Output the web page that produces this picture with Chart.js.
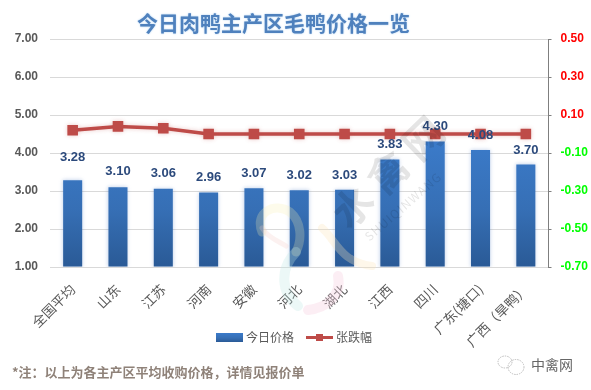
<!DOCTYPE html>
<html>
<head>
<meta charset="utf-8">
<script src="https://cdn.jsdelivr.net/npm/chart.js@4"></script>
<style>
  html, body { margin: 0; padding: 0; background: #fff; }
  #wrap { position: relative; width: 591px; height: 390px; overflow: hidden; font-family: "Noto Sans CJK SC", sans-serif; }
  #myChart { position: absolute; left: 0; top: 0; }
  .abs { position: absolute; white-space: nowrap; }
  #title { left: 137px; top: 7px; font-size: 21px; font-weight: bold; color: #4f81bd; line-height: 30px; text-shadow: 0 0 2px #a9cdf0; }
  #note { left: 12px; top: 362px; font-size: 13px; font-weight: bold; color: #8f8279; line-height: 20px; }
  #brand { left: 531px; top: 354px; font-size: 14px; color: #666; line-height: 20px; }
  .mark { color: #000; opacity: 0.10; transform-origin: left top; }
  #logo, #wx { position: absolute; left: 0; top: 0; pointer-events: none; }
</style>
</head>
<body>
<div id="wrap">
  <canvas id="myChart" width="591" height="390"></canvas>
  <svg id="logo" width="591" height="390" fill="none" stroke-linecap="round">
    <path d="M262 232 C254 212 275 202 290 212 C302 222 302 240 296 252" stroke="#f6eeb0" stroke-width="9" opacity="0.25"/>
    <path d="M296 252 C280 268 280 292 298 306" stroke="#bfe8e6" stroke-width="10" opacity="0.3"/>
    <path d="M322 228 C336 240 340 262 372 266" stroke="#fbe6b8" stroke-width="8" opacity="0.3"/>
    <path d="M338 276 C342 296 326 308 308 310" stroke="#f6cfe0" stroke-width="10" opacity="0.35"/>
    <path d="M262 228 C268 238 280 242 286 246" stroke="#f4c9c4" stroke-width="5" opacity="0.25"/>
  </svg>
  <div class="abs mark" style="left:319px;top:200px;font-size:40px;font-weight:bold;line-height:52px;letter-spacing:9px;transform:rotate(-44deg)">水禽网</div>
  <div class="abs mark" style="left:361px;top:232px;font-size:12px;line-height:16px;letter-spacing:1.2px;transform:rotate(-41deg)">SHUIQINWANG</div>
  <div class="abs" id="title">今日肉鸭主产区毛鸭价格一览</div>
  <div class="abs" id="note">*注：以上为各主产区平均收购价格，详情见报价单</div>
  <svg id="wx" width="591" height="390" fill="none" stroke="#bbb" stroke-width="1" stroke-dasharray="1.5 1">
    <ellipse cx="505" cy="362" rx="7" ry="6"/>
    <ellipse cx="516" cy="367" rx="8" ry="7.5"/>
  </svg>
  <div class="abs" id="brand">中禽网</div>
</div>

<script>
const categories = ['全国平均', '山东', '江苏', '河南', '安徽', '河北', '湖北', '江西', '四川', '广东(塘口)', '广西（旱鸭）'];
const prices = [3.28, 3.10, 3.06, 2.96, 3.07, 3.02, 3.03, 3.83, 4.30, 4.08, 3.70];
const changes = [0.02, 0.04, 0.03, 0, 0, 0, 0, 0, 0, 0, 0];
const priceTicks = [1, 2, 3, 4, 5, 6, 7];
const changeTicks = [-0.7, -0.5, -0.3, -0.1, 0.1, 0.3, 0.5];

// how far above the bar each value label sits
const labelGaps = [23, 16, 15, 15, 15, 15, 14, 15, 15, 15, 14];

const tickFont = {family: '"Liberation Sans", sans-serif', size: 12, weight: 'bold'};
const catFont = {family: '"Noto Sans CJK SC", sans-serif', size: 13.5};

function barGradient(ctx, top, bottom) {
  let g = ctx.createLinearGradient(0, top, 0, bottom);
  g.addColorStop(0, '#3b7bca');
  g.addColorStop(0.55, '#366fb5');
  g.addColorStop(1, '#2a5a96');
  return g;
}

// legend swatches
function barSwatch() {
  let c = document.createElement('canvas');
  c.width = 27; c.height = 9;
  let x = c.getContext('2d');
  x.fillStyle = barGradient(x, 0, 9);
  x.fillRect(0, 0, 27, 9);
  return c;
}
function lineSwatch() {
  let c = document.createElement('canvas');
  c.width = 27; c.height = 9;
  let x = c.getContext('2d');
  x.fillStyle = '#be4b48';
  x.fillRect(0, 3, 27, 3);
  x.fillRect(10, 1, 7, 7);
  return c;
}

// bar glow, legend placement, and the value labels over the bars
const extras = {
  id: 'extras',
  afterLayout(chart) {
    // legend sits beside the long category labels, not under them
    chart.legend.top = 316.5;
    chart.legend.bottom = 359.5;
  },
  beforeDatasetDraw(chart, args) {
    let ctx = chart.ctx;
    ctx.save();
    ctx.shadowColor = args.index === 1 ? 'rgba(60,110,190,0.35)' : 'rgba(190,75,72,0.3)';
    ctx.shadowBlur = 4;
  },
  afterDatasetDraw(chart) {
    chart.ctx.restore();
  },
  afterDraw(chart) {
    let ctx = chart.ctx;
    let meta = chart.getDatasetMeta(1);
    ctx.save();
    ctx.font = 'bold 13px "Liberation Sans", sans-serif';
    ctx.fillStyle = '#2c4a7c';
    ctx.textAlign = 'center';
    ctx.textBaseline = 'middle';
    meta.data.forEach((bar, i) => {
      ctx.fillText(prices[i].toFixed(2), bar.x, bar.y - labelGaps[i]);
    });
    ctx.restore();
  }
};

const myChart = document.getElementById('myChart');

let mixedChart = new Chart(myChart, {
  data: {
    labels: categories,
    datasets: [
      {
        type: 'line',
        label: '张跌幅',
        data: changes,
        yAxisID: 'y1',
        borderColor: '#be4b48',
        backgroundColor: '#be4b48',
        borderWidth: 3.5,
        pointStyle: 'rect',
        pointRadius: 7.5,
        pointBorderWidth: 0,
        tension: 0,
        order: 1
      },
      {
        type: 'bar',
        label: '今日价格',
        data: prices,
        yAxisID: 'y',
        base: 1,
        barPercentage: 0.42,
        categoryPercentage: 1,
        backgroundColor: function (context) {
          let area = context.chart.chartArea;
          if (!area) return '#366fb5';
          return barGradient(context.chart.ctx, area.top + 100, area.bottom);
        },
        order: 2
      }
    ]
  },
  options: {
    responsive: false,
    animation: false,
    layout: {padding: {left: 0, right: 0, top: 39, bottom: 0}},
    scales: {
      x: {
        grid: {display: false},
        border: {color: '#d9d9d9'},
        afterFit: function (scale) { scale.height = 86; },
        ticks: {
          font: catFont,
          color: '#595959',
          minRotation: 45,
          maxRotation: 45,
          autoSkip: false,
          padding: 6
        }
      },
      y: {
        position: 'left',
        min: 1,
        max: 7,
        afterFit: function (scale) { scale.width = 50; },
        afterBuildTicks: function (scale) { scale.ticks = priceTicks.map(v => ({value: v})); },
        border: {display: false},
        grid: {color: '#d9d9d9', drawTicks: false},
        ticks: {
          font: tickFont,
          color: '#595959',
          padding: 12,
          callback: v => v.toFixed(2)
        }
      },
      y1: {
        position: 'right',
        min: -0.7,
        max: 0.5,
        afterFit: function (scale) { scale.width = 42.5; },
        afterBuildTicks: function (scale) { scale.ticks = changeTicks.map(v => ({value: v})); },
        border: {color: '#7f7f7f', width: 1},
        grid: {drawOnChartArea: false, color: '#7f7f7f', tickLength: 3},
        ticks: {
          font: tickFont,
          padding: 9,
          color: ctx => ctx.tick.value > 0 ? '#ff0000' : '#00ff00',
          callback: v => v.toFixed(2)
        }
      }
    },
    plugins: {
      title: {display: false},
      legend: {
        position: 'bottom',
        labels: {
          usePointStyle: true,
          pointStyleWidth: 21,
          boxHeight: 9,
          padding: 15,
          color: '#595959',
          font: {family: '"Noto Sans CJK SC", sans-serif', size: 12},
          generateLabels: function () {
            return [
              {text: '今日价格', pointStyle: barSwatch(), fontColor: '#595959', lineWidth: 0, strokeStyle: 'transparent', datasetIndex: 1},
              {text: '张跌幅', pointStyle: lineSwatch(), fontColor: '#595959', lineWidth: 0, strokeStyle: 'transparent', datasetIndex: 0}
            ];
          }
        }
      },
      tooltip: {enabled: false}
    }
  },
  plugins: [extras]
});
</script>
</body>
</html>
